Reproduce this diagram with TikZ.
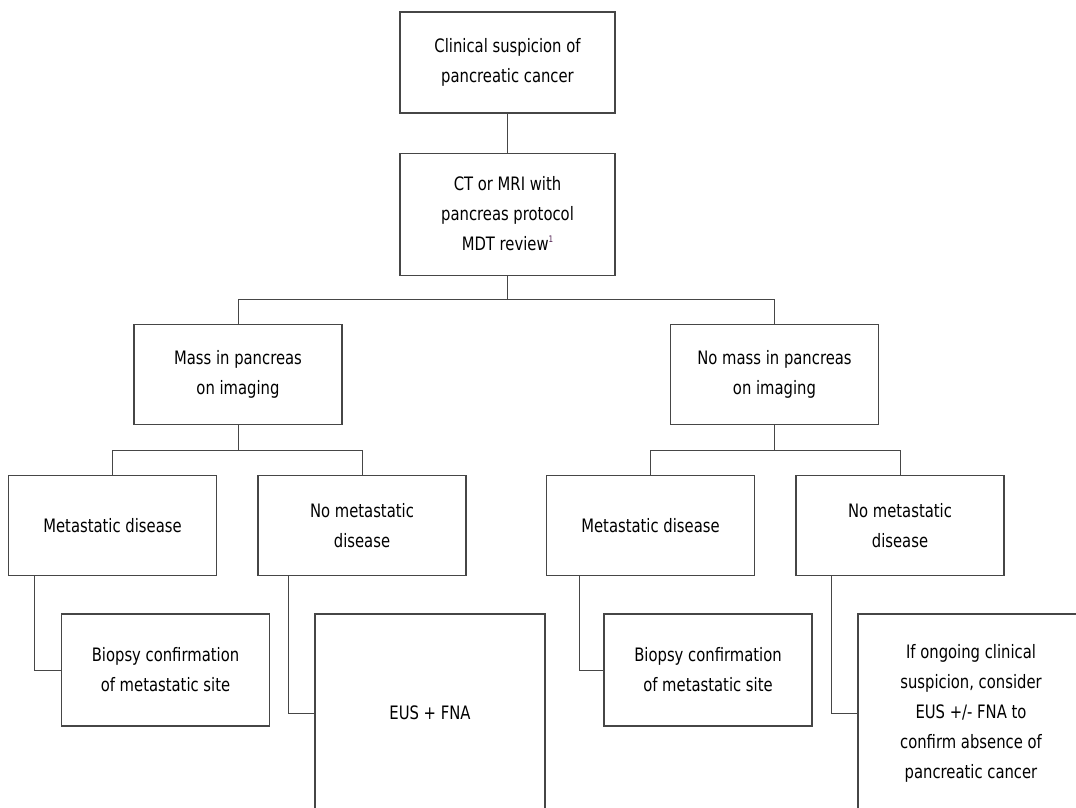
\documentclass[tikz,border=0pt]{standalone}
\usepackage{fontspec}
\setmainfont[FakeStretch=0.8]{DejaVu Sans}
\usepackage{tikz}
\usetikzlibrary{positioning}
\definecolor{edge}{RGB}{70,70,70}
\definecolor{notecol}{RGB}{80,30,80}
\newcommand{\notemark}[1]{\raisebox{8pt}{\textcolor{notecol}{\fontsize{9}{9}\selectfont #1}}}

\begin{document}
\begin{tikzpicture}[
  x=1pt, y=-1pt,
  every node/.style={font=\fontsize{18.5}{30}\selectfont},
  box/.style={rectangle, draw=edge, line width=1.1pt, align=center,
              minimum width=208pt, minimum height=100pt, inner sep=2pt},
  link/.style={draw=edge, line width=1pt}
]
  \useasboundingbox (0,0) rectangle (1076,808);

  \node[box, minimum width=215pt, minimum height=101pt] (susp) at (507.5,62.5) {%
    Clinical suspicion of\\pancreatic cancer};
  \node[box, minimum width=215pt, minimum height=122pt, below=39pt of susp] (ct) {%
    CT or MRI with\\pancreas protocol\\MDT review\notemark{1}};

  \node[box] (mass) at (238,374.5) {Mass in pancreas\\on imaging};
  \node[box] (nomass) at (774.5,374.5) {No mass in pancreas\\on imaging};

  \node[box] (metaL) at (112.5,525.5) {Metastatic disease};
  \node[box] (nometaL) at (362,525.5) {No metastatic\\disease};
  \node[box] (metaR) at (650.5,525.5) {Metastatic disease};
  \node[box] (nometaR) at (900,525.5) {No metastatic\\disease};

  \node[box, minimum height=112pt] (biopL) at (165.5,670) {%
    Biopsy confirmation\\of metastatic site};
  \node[box, minimum width=230pt, minimum height=198pt] (eus) at (430,713) {EUS + FNA};
  \node[box, minimum height=112pt] (biopR) at (708,670) {%
    Biopsy confirmation\\of metastatic site};
  \node[box, minimum width=226pt, minimum height=198pt] (ongoing) at (971,713) {%
    If ongoing clinical\\suspicion, consider\\EUS +/- FNA to\\confirm absence of\\pancreatic cancer};

  % tree links
  \draw[link] (susp) -- (ct);
  \draw[link] (ct.south) -- ++(0,24) -| (mass.north);
  \draw[link] (ct.south) -- ++(0,24) -| (nomass.north);
  \draw[link] (mass.south) -- ++(0,25) -| (metaL.north);
  \draw[link] (mass.south) -- ++(0,25) -| (nometaL.north);
  \draw[link] (nomass.south) -- ++(0,25) -| (metaR.north);
  \draw[link] (nomass.south) -- ++(0,25) -| (nometaR.north);

  % elbows to the last row
  \draw[link] ([xshift=27pt]metaL.south west) |- (biopL.west);
  \draw[link] ([xshift=31pt]nometaL.south west) |- (eus.west);
  \draw[link] ([xshift=34pt]metaR.south west) |- (biopR.west);
  \draw[link] ([xshift=36pt]nometaR.south west) |- (ongoing.west);
\end{tikzpicture}
\end{document}
